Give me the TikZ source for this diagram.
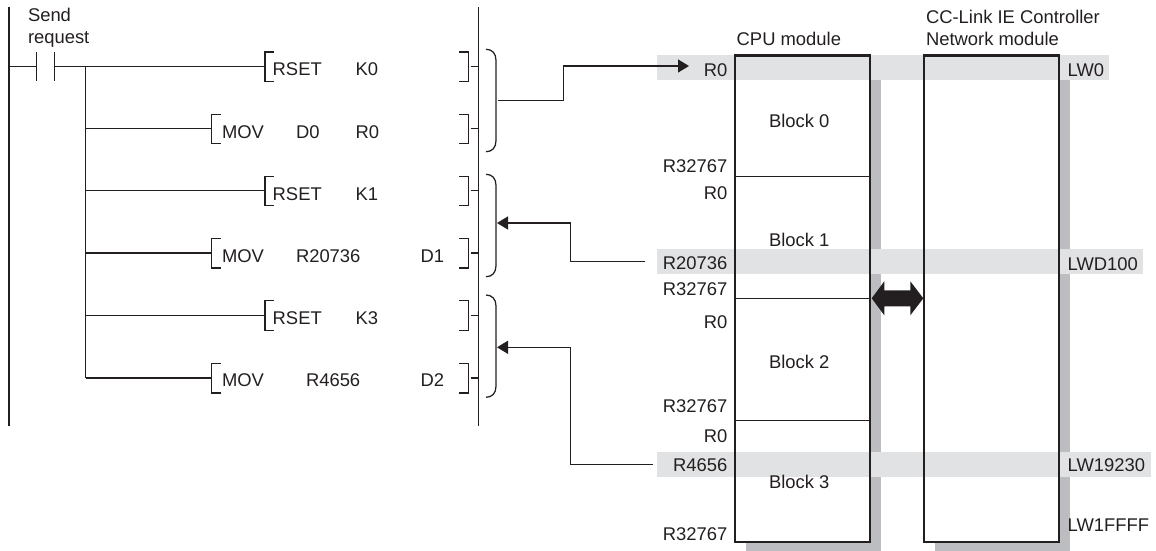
\documentclass[tikz,border=0pt]{standalone}
\usepackage{fontspec}
\setmainfont{Liberation Sans}
\usetikzlibrary{arrows.meta}
\definecolor{ink}{RGB}{35,31,32}
\definecolor{bandgrey}{RGB}{225,226,227}
\definecolor{shadowgrey}{RGB}{187,189,192}
\tikzset{
  wire/.style={draw=ink,line width=1.25pt},
  boxline/.style={draw=ink,line width=2.1pt},
  lab/.style={text=ink,inner sep=0pt,outer sep=0pt,font=\fontsize{18.4}{22}\selectfont},
  ll/.style={lab,anchor=base west},
  rl/.style={lab,anchor=base east},
  tip/.style={-{Triangle[length=11pt,width=13pt]}},
  band/.style={fill=bandgrey,draw=none},
  shadowbox/.style={fill=shadowgrey,draw=none}
}
\newcommand{\lbrk}[3]{% name x y
  \coordinate (#1) at (#2,#3);
  \draw[wire] ([shift={(9,-14.5)}]#1) -- ([shift={(0,-14.5)}]#1) -- ([shift={(0,15)}]#1) -- ([shift={(9,15)}]#1);
}
\newcommand{\rbrk}[2]{% name y
  \coordinate (#1) at (468.5,#2);
  \coordinate (#1s) at (470.5,#2);
  \draw[wire] ([shift={(-9.5,-14.5)}]#1) -- ([shift={(0,-14.5)}]#1) -- ([shift={(0,15)}]#1) -- ([shift={(-9.5,15)}]#1);
  \draw[wire] (#1s) -- (478.5,#2);
}
\newcommand{\brc}[3]{% name top bottom
  \coordinate (#1t) at (486,#2);
  \coordinate (#1b) at (486,#3);
  \draw[wire] (#1t) .. controls (492,#2) and (496,{#2+4}) .. (496,{#2+11}) -- (496,{#3-11}) .. controls (496,{#3-4}) and (492,#3) .. (#1b);
}
\begin{document}
\begin{tikzpicture}[x=1pt,y=-1pt]
\useasboundingbox (0,0) rectangle (1156,551);
% shadows, boxes, bands
\fill[shadowbox] (746,65) rectangle (880.7,550.8);
\fill[shadowbox] (935,65) rectangle (1070,550.8);
\fill[white] (735,55.5) rectangle (870,541.7);
\fill[white] (924,55.5) rectangle (1059,541.7);
\fill[band] (657,55) rectangle (1109,80);
\fill[band] (657,249) rectangle (1143,274);
\fill[band] (657,452) rectangle (1151,477);
\node[boxline,fill=none,minimum width=135pt,minimum height=486.2pt,inner sep=0pt,outer sep=0pt,anchor=north west] (cpu) at (735,55.5) {};
\node[boxline,fill=none,minimum width=135pt,minimum height=486.2pt,inner sep=0pt,outer sep=0pt,anchor=north west] (net) at (924,55.5) {};
% dividers
\draw[wire] (735,176.3) -- (870,176.3);
\draw[wire] (735,298.5) -- (870,298.5);
\draw[wire] (735,420.5) -- (870,420.5);
% bidirectional arrow
\fill[ink] (871.7,298.3) -- (884.3,281.3) -- (884.3,290.3) -- (910.3,290.3) -- (910.3,281.3) -- (923.3,298.3) -- (910.3,315.3) -- (910.3,306.3) -- (884.3,306.3) -- (884.3,315.3) -- cycle;
% ladder rails
\coordinate (railLt) at (9,7);
\coordinate (railLb) at (9,425.5);
\coordinate (railRt) at (478.5,7);
\coordinate (railRb) at (478.5,425.5);
\draw[wire] (railLt) -- (railLb);
\draw[wire] (railRt) -- (railRb);
% contact
\coordinate (c1) at (36.7,66.3);
\coordinate (c2) at (54.3,66.3);
\coordinate (jt) at (85.7,66.3);
\coordinate (jb) at (85.7,378);
\draw[wire] (9,66.3) -- (c1);
\draw[wire] (36.7,52.3) -- (36.7,80.7);
\draw[wire] (54.3,52.3) -- (54.3,80.7);
\draw[wire] (c2) -- (265,66.3);
\draw[wire] (jt) -- (jb);
% left brackets and rungs
\lbrk{a}{265}{66.5}
\lbrk{b}{211.7}{128.8}
\lbrk{c}{265}{190.8}
\lbrk{d}{211.7}{253}
\lbrk{e}{265}{315.3}
\lbrk{f}{211.7}{378}
\draw[wire] (85.7,128.8) -- (b);
\draw[wire] (85.7,190.8) -- (c);
\draw[wire] (85.7,253) -- (d);
\draw[wire] (85.7,315.3) -- (e);
\draw[wire] (jb) -- (f);
% right brackets
\rbrk{ra}{66.5}
\rbrk{rb}{128.8}
\rbrk{rc}{190.8}
\rbrk{rd}{253}
\rbrk{re}{315.3}
\rbrk{rf}{378}
% braces
\brc{p}{49.3}{151.7}
\brc{q}{174.3}{276.7}
\brc{s}{295}{397.3}
% connectors
\coordinate (p1) at (498,100.7);
\coordinate (p2) at (689,66);
\draw[wire,tip] (p1) -- (563.3,100.7) -- (563.3,66) -- (p2);
\coordinate (q1) at (645,261.7);
\coordinate (q2) at (497,223);
\draw[wire,tip] (q1) -- (570.7,261.7) -- (570.7,223) -- (q2);
\coordinate (s1) at (653,464.3);
\coordinate (s2) at (497,347.3);
\draw[wire,tip] (s1) -- (570.7,464.3) -- (570.7,347.3) -- (s2);
% ladder texts
\node[ll] (t1) at (28,22) {Send};
\node[ll] (t2) at (28,44) {request};
\node[ll] (r1a) at (272.7,75.8) {RSET};
\node[ll] (r1b) at (355.6,75.8) {K0};
\node[ll] (r2a) at (222,138) {MOV};
\node[ll] (r2b) at (296,138) {D0};
\node[ll] (r2c) at (355.6,138) {R0};
\node[ll] (r3a) at (272.7,200.2) {RSET};
\node[ll] (r3b) at (355.6,200.2) {K1};
\node[ll] (r4a) at (222,262.7) {MOV};
\node[ll] (r4b) at (296,262.7) {R20736};
\node[ll] (r4c) at (420.7,262.7) {D1};
\node[ll] (r5a) at (272.7,324.8) {RSET};
\node[ll] (r5b) at (355.6,324.8) {K3};
\node[ll] (r6a) at (222,386.7) {MOV};
\node[ll] (r6b) at (306,386.7) {R4656};
\node[ll] (r6c) at (420.7,386.7) {D2};
% module texts
\node[ll] (h1) at (736.7,46) {CPU module};
\node[ll] (h2) at (926,24) {CC-Link IE Controller};
\node[ll] (h3) at (926,46) {Network module};
\node[ll] (b0) at (769,127) {Block 0};
\node[ll] (b1) at (769,246) {Block 1};
\node[ll] (b2) at (769,368) {Block 2};
\node[ll] (b3) at (769,488) {Block 3};
\node[rl] (m1) at (727.3,76) {R0};
\node[rl] (m2) at (727.3,172.7) {R32767};
\node[rl] (m3) at (727.3,199) {R0};
\node[rl] (m4) at (727.3,269) {R20736};
\node[rl] (m5) at (727.3,295.7) {R32767};
\node[rl] (m6) at (727.3,328.5) {R0};
\node[rl] (m7) at (727.3,412.7) {R32767};
\node[rl] (m8) at (727.3,442.7) {R0};
\node[rl] (m9) at (727.3,471.7) {R4656};
\node[rl] (m10) at (727.3,540) {R32767};
\node[ll] (n1) at (1067.7,76) {LW0};
\node[ll] (n2) at (1067.7,270) {LWD100};
\node[ll] (n3) at (1067.7,471.7) {LW19230};
\node[ll] (n4) at (1067.7,531.7) {LW1FFFF};
\end{tikzpicture}
\end{document}
